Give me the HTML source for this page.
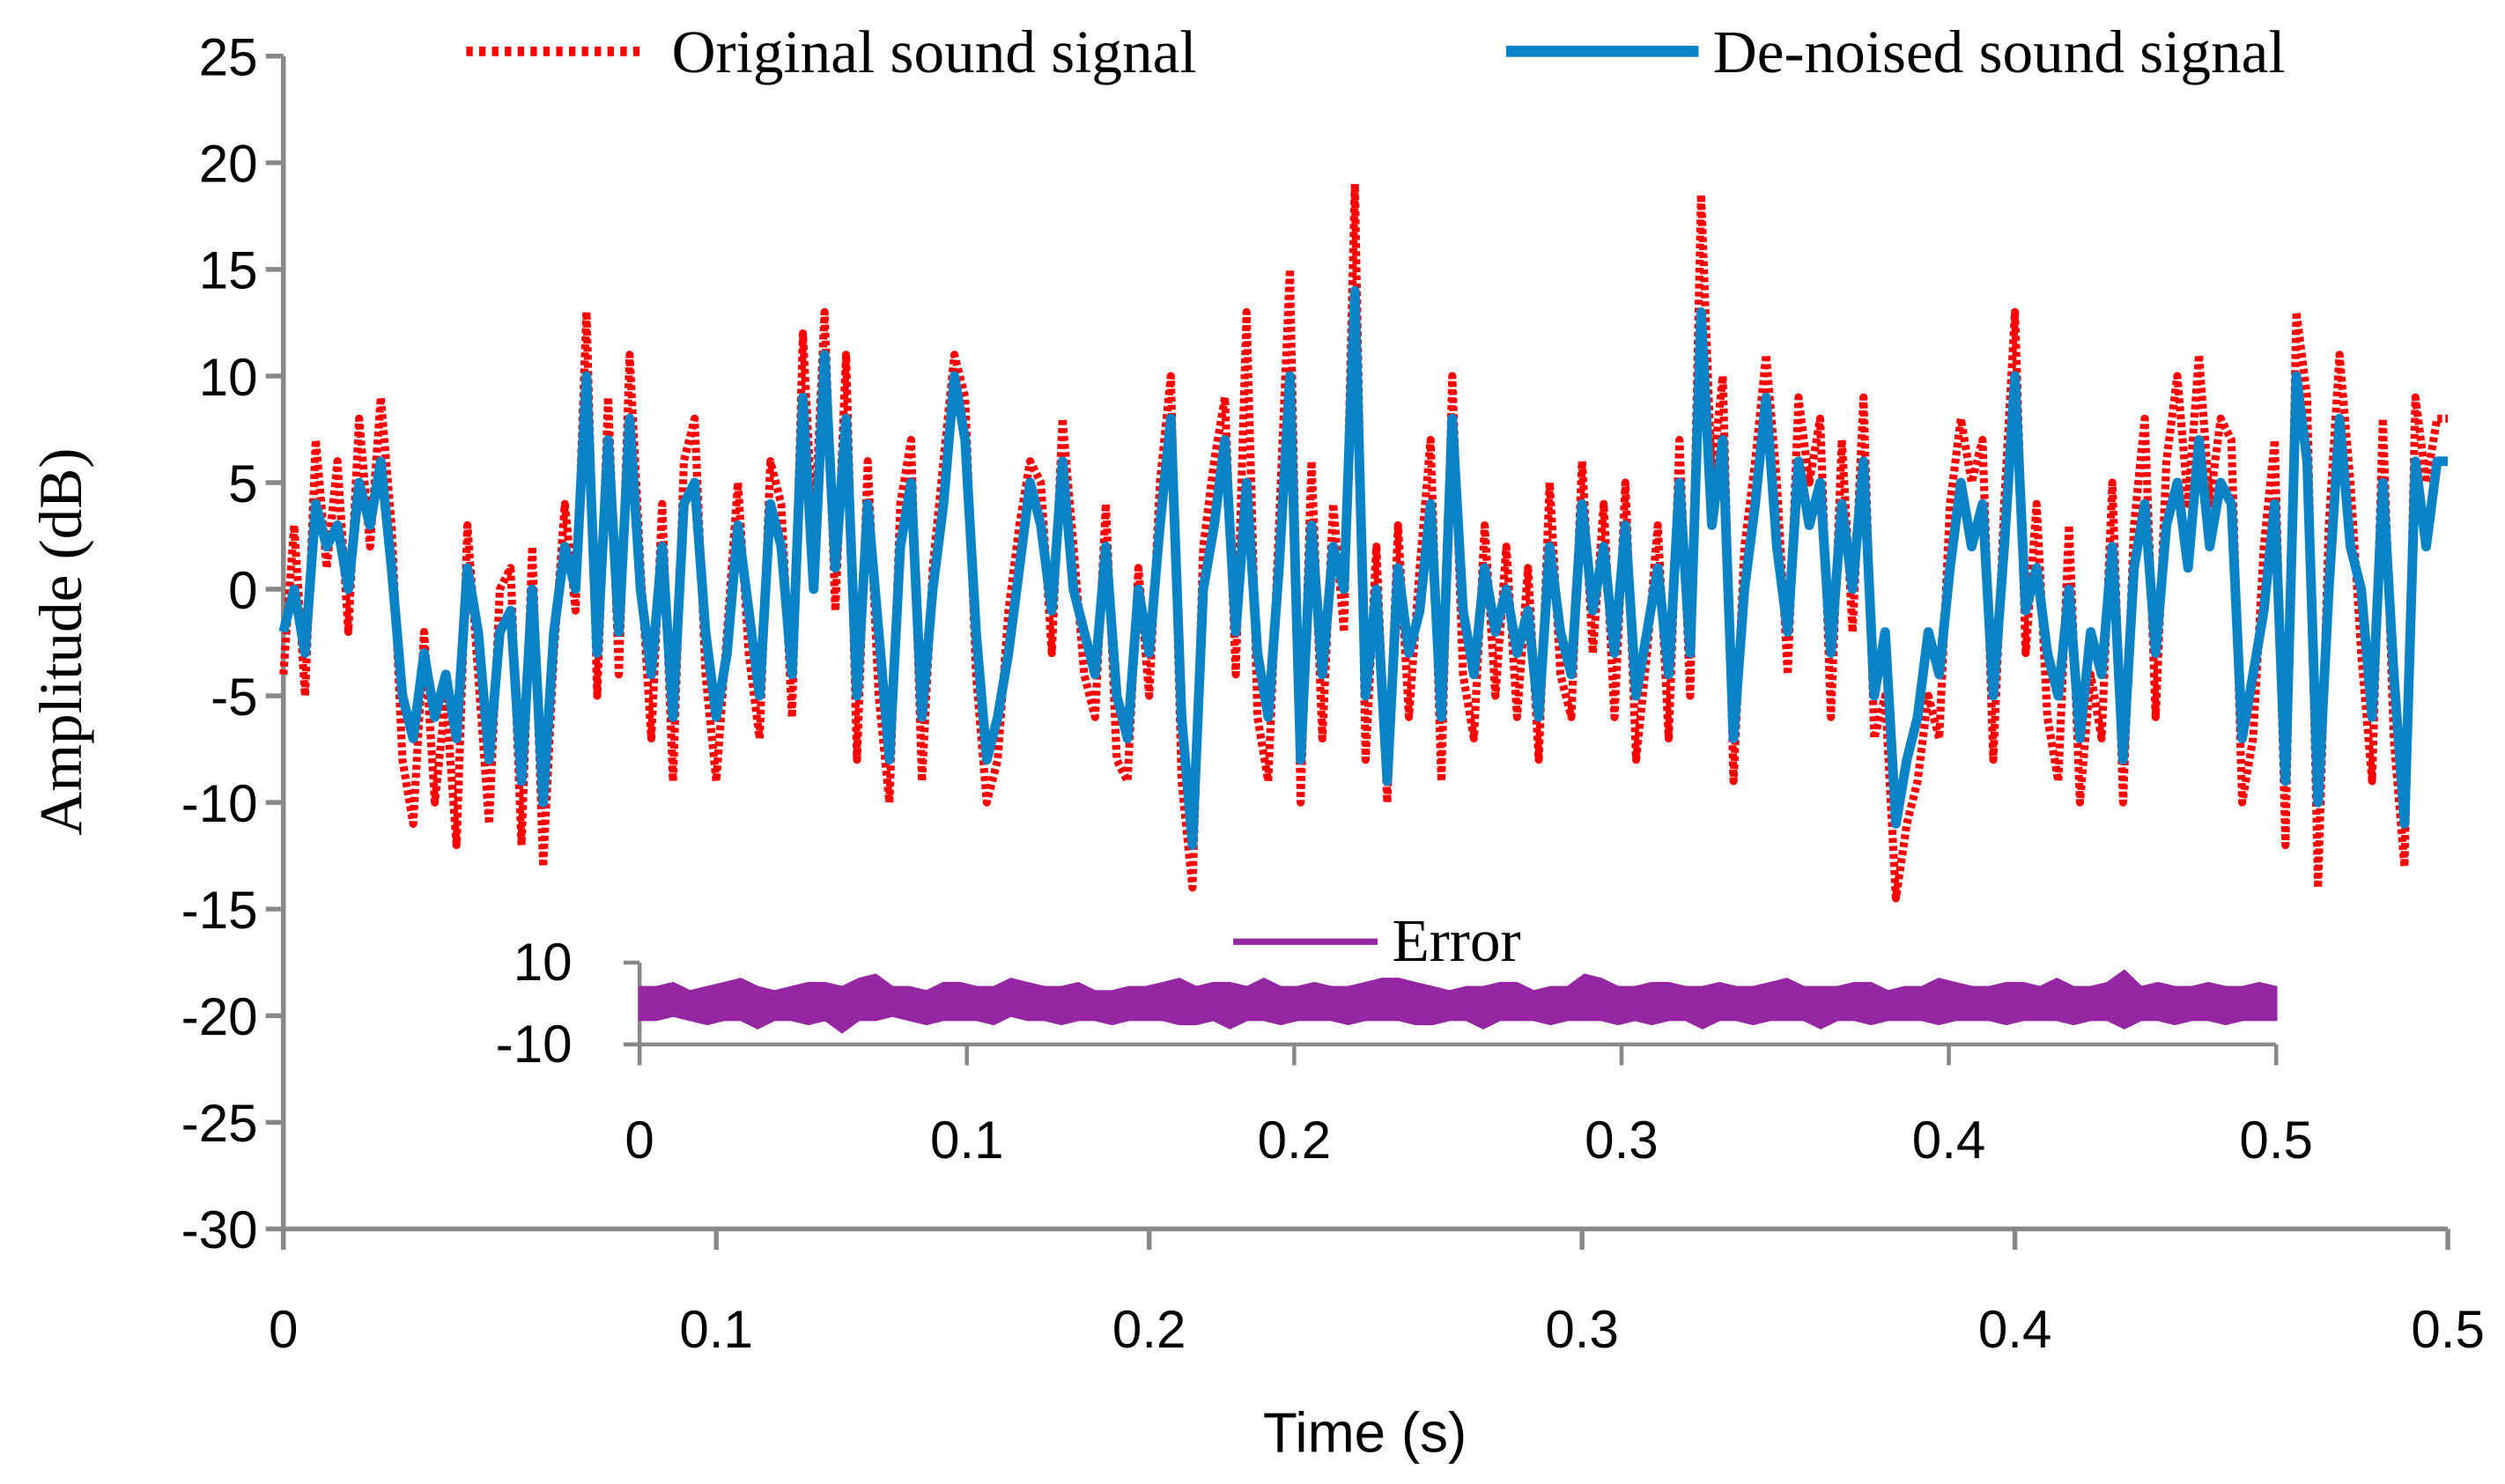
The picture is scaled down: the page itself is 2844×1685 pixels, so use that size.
<!DOCTYPE html>
<html><head><meta charset="utf-8"><style>
html,body{margin:0;padding:0;background:#fff;}
svg{display:block;}
.tk{font-family:"Liberation Sans",sans-serif;font-size:33px;fill:#000;}
.sf{font-family:"Liberation Serif",serif;font-size:38px;fill:#000;}
</style></head><body>
<svg id="chart" width="2844" height="1685" viewBox="0 0 1560 925">
<g id="main-axes"></g>
<g id="series"></g>
<g id="inset"></g>
<g id="legend">
 <line x1="290" y1="32" x2="402" y2="32" stroke="#ff0000" stroke-width="6" stroke-dasharray="4 4"/>
 <text x="418" y="45" class="sf">Original sound signal</text>
 <line x1="938" y1="32" x2="1058" y2="32" stroke="#0a84c6" stroke-width="7"/>
 <text x="1067" y="45" class="sf">De-noised sound signal</text>
 <line x1="768" y1="587" x2="858" y2="587" stroke="#9527a3" stroke-width="4"/>
 <text x="867" y="599" class="sf">Error</text>
</g>
<text x="850" y="905" class="tk" text-anchor="middle" style="font-size:35px">Time (s)</text>
<text transform="translate(50,400) rotate(-90)" class="sf" text-anchor="middle">Amplitude (dB)</text>
</svg>
<script>
const yTicks=[25,20,15,10,5,0,-5,-10,-15,-20,-25,-30];
const xTicks=[0,0.1,0.2,0.3,0.4,0.5];
const xTickLabels=["0","0.1","0.2","0.3","0.4","0.5"];
const insetYTicks=[10,-10];
const denoised=[-2,0,-3,4,2,3,0,5,3,6,
1,-5,-7,-3,-6,-4,-7,1,-2,-8,
-2,-1,-9,0,-10,-2,2,0,10,-3,
7,-2,8,0,-4,2,-6,4,5,-2,
-6,-3,3,-1,-5,4,2,-4,9,0,
11,1,8,-5,4,-2,-8,2,5,-6,
0,4,10,7,-2,-8,-6,-3,1,5,
3,-1,6,0,-2,-4,2,-5,-7,0,
-3,3,8,-6,-12,0,3,7,-2,5,
-3,-6,1,10,-8,3,-4,2,0,14,
-5,0,-9,1,-3,-1,4,-6,8,-1,
-4,1,-2,0,-3,-1,-6,2,-2,-4,
4,-1,2,-3,3,-5,-2,1,-4,5,
-3,13,3,7,-7,0,4,9,2,-2,
6,3,5,-3,4,0,6,-5,-2,-11,
-8,-6,-2,-4,1,5,2,4,-5,2,
10,-1,1,-3,-5,0,-7,-2,-4,2,
-8,1,4,-3,3,5,1,7,2,5,
4,-7,-4,-1,4,-9,10,6,-10,0,
8,2,0,-6,5,-4,-11,6,2,6,6];
const original=[-4,3,-5,7,1,6,-2,8,2,9,
3,-8,-11,-2,-10,-5,-12,3,-4,-11,
0,1,-12,2,-13,-3,4,-1,13,-5,
9,-4,11,1,-7,4,-9,6,8,-4,
-9,-2,5,-3,-7,6,4,-6,12,2,
13,-1,11,-8,6,-5,-10,4,7,-9,
1,6,11,9,-4,-10,-8,-1,3,6,
5,-3,8,2,-4,-6,4,-8,-9,1,
-5,5,10,-9,-14,2,6,9,-4,13,
-6,-9,3,15,-10,6,-7,4,-2,19,
-8,2,-10,3,-6,1,7,-9,10,-4,
-7,3,-5,2,-6,1,-8,5,-4,-6,
6,-3,4,-6,5,-8,-3,3,-7,7,
-5,18.5,5,10,-9,2,6,11,5,-4,
9,5,8,-6,7,-2,9,-7,-5,-14.5,
-11,-9,-5,-7,4,8,5,7,-8,4,
13,-3,4,-6,-9,3,-10,-4,-7,5,
-10,3,8,-6,6,10,4,11,4,8,
7,-10,-7,2,7,-12,13,9,-14,3,
11,5,-3,-9,8,-7,-13,9,5,8,8];
const errorUpper=[4,4,5,3,4,5,6,4,3,4,5,5,4,6,7,4,4,3,5,5,
4,4,6,5,4,4,5,3,3,4,4,5,6,4,5,5,4,6,4,4,
5,4,4,5,6,6,5,4,3,4,4,5,5,3,4,4,7,6,4,4,
5,5,4,4,5,4,4,5,6,4,4,4,5,5,3,4,4,6,5,4,
4,5,5,4,6,4,4,5,8,4,5,4,4,5,4,4,5,4];
const errorLower=[-4,-4,-3,-4,-5,-4,-4,-6,-4,-4,-5,-4,-7,-4,-4,-3,-4,-5,-4,-4,
-4,-5,-3,-4,-4,-5,-4,-4,-5,-4,-4,-4,-5,-5,-4,-6,-4,-4,-5,-4,
-4,-4,-5,-4,-4,-4,-5,-5,-4,-4,-6,-4,-4,-4,-5,-4,-4,-4,-5,-4,
-5,-4,-4,-6,-4,-4,-5,-4,-4,-4,-6,-4,-4,-5,-4,-4,-4,-5,-4,-4,
-4,-5,-4,-4,-4,-5,-4,-4,-6,-4,-4,-5,-4,-4,-5,-4,-4,-4];
const NS='http://www.w3.org/2000/svg';
function mk(tag,attrs,parent){const e=document.createElementNS(NS,tag);for(const k in attrs)e.setAttribute(k,attrs[k]);parent.appendChild(e);return e;}
const X0=176,X1=1525,Y0=35,Y1=766;
const xs=t=>X0+(t/0.5)*(X1-X0);
const ys=v=>Y0+(25-v)/55*(Y1-Y0);
const IX0=398,IX1=1418,IY0=600,IY1=651;
const ixs=t=>IX0+(t/0.5)*(IX1-IX0);
const iys=v=>IY0+(10-v)/20*(IY1-IY0);
const gray='#888888';
const ax=document.getElementById('main-axes');
let e;
e=mk('line',{x1:X0,y1:Y0,x2:X0,y2:Y1,stroke:gray,'stroke-width':3},ax);


e=mk('line',{x1:X0-1.5,y1:Y1,x2:X1,y2:Y1,stroke:gray,'stroke-width':3},ax);


yTicks.forEach(v=>{
 const t=mk('line',{x1:X0-11,y1:ys(v),x2:X0,y2:ys(v),stroke:gray,'stroke-width':3},ax);
 
 
 const l=mk('text',{x:160,y:ys(v)+12,'text-anchor':'end',class:'tk'},ax);l.textContent=String(v);
 
 
});
xTicks.forEach((v,i)=>{
 const t=mk('line',{x1:xs(v),y1:Y1,x2:xs(v),y2:Y1+13,stroke:gray,'stroke-width':3},ax);
 
 
 const l=mk('text',{x:xs(v),y:840,'text-anchor':'middle',class:'tk'},ax);l.textContent=xTickLabels[i];
 
 
});
const sg=document.getElementById('series');
const pts=(arr,n)=>arr.map((v,i)=>xs(i*0.5/n).toFixed(1)+','+ys(v).toFixed(1)).join(' ');
e=mk('polyline',{points:pts(original,original.length-1),fill:'none',stroke:'#ff0000','stroke-width':5,'stroke-dasharray':'3 2','stroke-linejoin':'round'},sg);


e=mk('polyline',{points:pts(denoised,denoised.length-1),fill:'none',stroke:'#0a84c6','stroke-width':6,'stroke-linejoin':'round'},sg);


const ig=document.getElementById('inset');
e=mk('rect',{x:IX0-6,y:IY0-8,width:IX1-IX0+30,height:IY1-IY0+75,fill:'#fff'},ig);


e=mk('line',{x1:IX0,y1:IY0,x2:IX0,y2:IY1+13,stroke:gray,'stroke-width':2.5},ig);


e=mk('line',{x1:IX0-10,y1:IY1,x2:IX1,y2:IY1,stroke:gray,'stroke-width':2.5},ig);


insetYTicks.forEach(v=>{
 const t=mk('line',{x1:IX0-10,y1:iys(v),x2:IX0,y2:iys(v),stroke:gray,'stroke-width':2.5},ig);
 
 
 const l=mk('text',{x:356,y:iys(v)+11,'text-anchor':'end',class:'tk'},ig);l.textContent=String(v);
 
 
});
xTicks.forEach((v,i)=>{
 const t=mk('line',{x1:ixs(v),y1:IY1,x2:ixs(v),y2:IY1+13,stroke:gray,'stroke-width':2.5},ig);
 
 
 const l=mk('text',{x:ixs(v),y:722,'text-anchor':'middle',class:'tk'},ig);l.textContent=xTickLabels[i];
 
 
});
const nU=errorUpper.length-1,nL=errorLower.length-1;
const upPts=errorUpper.map((v,i)=>ixs(i*0.5/nU).toFixed(1)+','+iys(v).toFixed(1));
const loPts=errorLower.map((v,i)=>ixs(i*0.5/nL).toFixed(1)+','+iys(v).toFixed(1)).reverse();
e=mk('polygon',{points:upPts.concat(loPts).join(' '),fill:'#9527a3',stroke:'#9527a3','stroke-width':1.5},ig);


</script>
</body></html>
